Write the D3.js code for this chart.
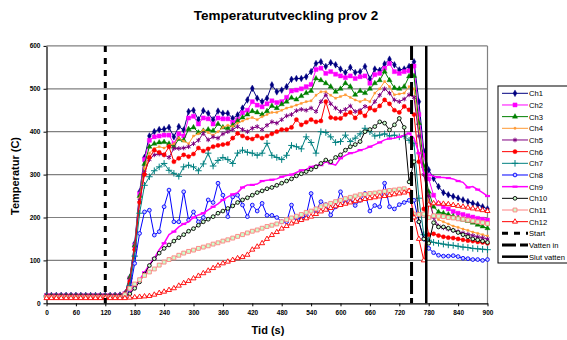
<!DOCTYPE html>
<html>
<head>
<meta charset="utf-8">
<script src="https://cdn.jsdelivr.net/npm/d3@7"></script>
<style>
  body { margin: 0; background: #fff; }
  svg { display: block; font-family: Arial, "Liberation Sans", sans-serif; }
</style>
</head>
<body>
<svg id="chart" width="567" height="340"></svg>
<script>
// time in seconds, one sample every 10 s
const times = [0,10,20,30,40,50,60,70,80,90,100,110,120,130,140,150,
  160,170,180,190,200,210,220,230,240,250,260,270,280,290,300,310,320,330,340,350,
  360,370,380,390,400,410,420,430,440,450,460,470,480,490,500,510,520,530,540,550,
  560,570,580,590,600,610,620,630,640,650,660,670,680,690,700,710,720,730,740,750,
  760,770,780,790,800,810,820,830,840,850,860,870,880,890,900];

const ch1 = [18,18,18,18,18,18,18,18,18,18,18,18,18,18,18,19,
  22,60,140,260,340,390,400,405,406,410,
  388,412,404,447,450,428,449,443,428,448,
  443,443,431,439,455,474,501,478,470,478,
  509,493,497,505,522,524,524,528,540,559,
  563,552,561,556,546,538,550,538,540,552,
  523,546,543,558,569,556,544,546,552,563,
  470,355,311,291,272,258,253,249,245,241,
  237,233,230,225,220];
const ch2 = [17,17,17,17,17,17,17,17,17,17,17,17,17,17,17,18,
  22,58,135,255,335,380,388,390,392,392,
  372,395,390,432,436,418,432,430,418,432,
  430,430,422,428,444,450,470,462,458,465,
  472,468,470,480,495,497,500,505,510,545,
  548,536,540,534,530,526,530,524,528,530,
  513,533,536,548,559,540,536,540,542,553,
  440,345,290,252,232,225,220,214,210,207,
  204,201,198,196,194];
const ch3 = [17,17,17,17,17,17,17,17,17,17,17,17,17,17,17,17,
  22,60,135,250,325,365,372,375,376,372,
  365,383,380,406,410,398,402,405,402,418,
  410,408,415,425,433,440,448,445,440,448,
  460,455,464,470,479,475,483,490,495,524,
  520,513,505,493,500,513,505,486,495,490,
  500,513,520,540,520,502,500,505,529,530,
  420,320,260,225,213,210,207,203,199,195,
  192,188,183,179,175];
const ch4 = [17,17,17,17,17,17,17,17,17,17,17,17,17,17,17,17,
  21,55,130,245,315,350,361,365,362,368,
  372,385,378,372,390,395,404,398,392,400,
  410,415,412,420,425,430,433,428,435,440,
  445,445,450,455,458,462,466,470,472,485,
  493,493,485,478,482,486,480,474,470,475,
  470,490,500,517,505,486,488,490,505,500,
  400,300,240,205,195,190,185,180,177,173,
  170,166,163,160,157];
const ch5 = [20,20,20,20,20,20,20,20,20,20,20,20,20,20,20,20,
  24,55,128,240,305,335,346,348,346,340,
  361,361,362,365,372,380,396,381,388,385,
  395,400,405,412,405,400,408,412,405,415,
  423,420,428,437,440,449,452,450,455,447,
  470,486,465,455,447,452,460,447,450,459,
  455,470,485,500,490,474,470,476,486,480,
  390,300,250,200,180,176,173,170,167,164,
  161,158,155,153,150];
const ch6 = [17,17,17,17,17,17,17,17,17,17,17,17,17,17,17,17,
  22,50,125,235,300,340,357,352,346,365,
  330,338,346,342,348,362,355,360,365,368,
  370,372,385,396,390,385,383,390,385,390,
  395,400,405,405,410,428,416,422,428,423,
  425,470,433,431,431,440,445,432,445,437,
  455,450,460,474,465,450,445,459,451,440,
  330,220,160,162,158,155,153,152,150,148,
  146,145,143,142,140];
const ch7 = [17,17,17,17,17,17,17,17,17,17,17,17,17,17,17,17,
  20,42,110,210,275,295,309,318,326,310,
  303,296,318,322,318,309,325,350,320,333,
  340,335,326,350,357,352,350,345,350,373,
  345,340,335,345,368,365,360,388,375,350,
  400,398,388,375,377,392,377,385,395,408,
  400,390,392,395,390,392,388,390,380,373,
  245,160,147,142,140,138,136,135,133,131,
  130,128,127,126,125];
const ch8 = [15,15,15,15,15,15,15,15,15,15,15,15,15,15,15,15,
  16,30,93,163,213,217,159,167,225,264,
  190,190,260,194,213,190,200,241,235,280,
  252,202,248,252,229,202,229,215,233,205,
  205,200,190,190,229,198,196,205,256,215,
  237,230,206,225,260,235,245,228,240,256,
  215,228,225,280,225,220,230,235,240,240,
  190,150,128,118,112,110,110,111,109,105,
  104,102,102,100,102];
const ch9 = [16,16,16,16,16,16,16,16,16,16,16,16,16,16,16,16,
  18,25,40,55,72,90,105,125,140,160,
  167,178,185,190,200,206,210,218,225,232,
  241,248,254,258,270,276,276,278,285,287,
  288,290,295,298,300,305,310,312,318,322,
  322,330,326,322,338,345,350,352,357,360,
  365,370,375,381,384,385,388,392,396,385,
  350,303,300,296,294,293,292,290,285,282,
  270,272,265,258,250];
const ch10 = [16,16,16,16,16,16,16,16,16,16,16,16,16,16,16,16,
  17,22,35,50,68,88,104,117,128,136,
  145,153,160,168,174,182,190,196,202,210,
  215,221,227,235,241,246,252,258,262,267,
  270,275,280,285,290,297,302,307,312,318,
  326,334,330,340,346,357,365,370,377,400,
  405,412,423,420,404,416,431,410,283,330,
  190,150,140,188,178,178,175,170,165,160,
  155,150,148,145,142];
const ch11 = [14,14,14,14,14,14,14,14,14,14,14,14,14,14,14,14,
  20,35,45,55,65,73,80,89,96,102,
  106,112,117,121,124,128,131,134,138,141,
  145,148,152,156,160,164,168,171,175,179,
  182,185,190,195,199,203,207,212,215,220,
  225,229,233,237,240,244,247,250,253,254,
  256,257,259,261,263,264,266,267,262,208,
  207,208,200,204,203,202,200,199,197,196,
  194,192,190,188,186];
const ch12 = [12,12,12,12,12,12,12,12,12,12,12,12,12,12,12,12,
  12,13,14,15,16,17,20,24,27,31,
  35,41,47,52,58,64,70,76,82,88,
  93,97,101,105,108,113,125,132,140,150,
  159,166,174,180,186,190,194,198,202,208,
  214,218,222,226,229,232,235,238,240,243,
  245,247,249,250,252,254,256,258,262,200,
  150,100,230,233,233,232,231,229,227,225,
  223,221,219,217,215];

// events (s)
const eventNames = ["Start", "Vatten in", "Slut vatten"];
const eventTimes = [120, 745, 775];

const xTicks = [0,60,120,180,240,300,360,420,480,540,600,660,720,780,840,900];
const yTicks = [0,100,200,300,400,500,600];

const series = [
  {name: "Ch1", values: ch1, color: "#000080", marker: "diamond", fill: "#000080", size: 13},
  {name: "Ch2", values: ch2, color: "#ff00ff", marker: "square", fill: "#ff00ff", size: 17},
  {name: "Ch3", values: ch3, color: "#008000", marker: "triangle", fill: "#008000", size: 12},
  {name: "Ch4", values: ch4, color: "#ff9933", marker: "square", fill: "#ff9933", size: 4},
  {name: "Ch5", values: ch5, color: "#800080", marker: "asterisk", fill: "none", size: 15},
  {name: "Ch6", values: ch6, color: "#ff0000", marker: "circle", fill: "#ff0000", size: 14},
  {name: "Ch7", values: ch7, color: "#008080", marker: "plus", fill: "none", size: 16},
  {name: "Ch8", values: ch8, color: "#0000ff", marker: "circle", fill: "#ccccff", size: 11},
  {name: "Ch9", values: ch9, color: "#ff00ff", marker: "dash", fill: "#ff00ff", size: 0},
  {name: "Ch10", values: ch10, color: "#000000", marker: "circle", fill: "#ccffcc", size: 11},
  {name: "Ch11", values: ch11, color: "#ff8080", marker: "square", fill: "#ccffcc", size: 15},
  {name: "Ch12", values: ch12, color: "#ff0000", marker: "triangle", fill: "#ffffff", size: 11}
];

const symbols = {
  diamond: d3.symbolDiamond, square: d3.symbolSquare, triangle: d3.symbolTriangle,
  circle: d3.symbolCircle, asterisk: d3.symbolAsterisk, plus: d3.symbolPlus
};

const svg = d3.select("#chart");
const x = d3.scaleLinear().domain([0, 900]).range([46.5, 487.5]);
const y = d3.scaleLinear().domain([0, 600]).range([303.3, 45.9]);

// title
svg.append("text")
  .attr("x", 286).attr("y", 20)
  .attr("text-anchor", "middle")
  .style("font-size", "13.5px").style("font-weight", "bold")
  .text("Temperaturutveckling prov 2");

// grid
svg.append("g").selectAll("line")
  .data(yTicks.filter(d => d > 0))
  .enter().append("line")
  .attr("x1", x(0)).attr("x2", x(900))
  .attr("y1", d => y(d)).attr("y2", d => y(d))
  .attr("stroke", "#808080").attr("stroke-width", 1.2);

svg.append("line")
  .attr("x1", x(900)).attr("x2", x(900))
  .attr("y1", y(600)).attr("y2", y(0))
  .attr("stroke", "#808080").attr("stroke-width", 1.2);

// axes
let xAxis = svg.append("g")
  .attr("transform", `translate(0, ${y(0)})`)
  .call(d3.axisBottom(x).tickValues(xTicks).tickSize(3).tickSizeOuter(0));
let yAxis = svg.append("g")
  .attr("transform", `translate(${x(0)}, 0)`)
  .call(d3.axisLeft(y).tickValues(yTicks).tickSize(3).tickSizeOuter(0));

[xAxis, yAxis].forEach(a => {
  a.select(".domain").attr("stroke", "#000").attr("stroke-width", 1.2);
  a.selectAll(".tick line").attr("stroke", "#000");
  a.selectAll(".tick text")
    .style("font-family", "Arial, 'Liberation Sans', sans-serif")
    .style("font-size", "6.5px").style("font-weight", "bold").attr("fill", "#000");
});
xAxis.selectAll(".tick text").attr("dy", "0.9em");
yAxis.selectAll(".tick text").attr("x", -6);

svg.append("text")
  .attr("x", 268).attr("y", 334)
  .attr("text-anchor", "middle")
  .style("font-size", "11px").style("font-weight", "bold")
  .text("Tid (s)");

svg.append("text")
  .attr("transform", "translate(19, 176) rotate(-90)")
  .attr("text-anchor", "middle")
  .style("font-size", "11px").style("font-weight", "bold")
  .text("Temperatur (C)");

// series
const line = d3.line().x((d, i) => x(times[i])).y(d => y(d));

function drawMarker(g, s, cx, cy) {
  if (s.marker == "dash") {
    g.append("rect")
      .attr("x", cx - 2.5).attr("y", cy - 1.1)
      .attr("width", 5).attr("height", 2.2)
      .attr("fill", s.color);
    return;
  }
  let stroked = s.marker == "asterisk" || s.marker == "plus";
  g.append("path")
    .attr("transform", `translate(${cx},${cy})`)
    .attr("d", d3.symbol().type(symbols[s.marker]).size(s.size)())
    .attr("fill", stroked ? "none" : s.fill)
    .attr("stroke", s.color)
    .attr("stroke-width", stroked ? 1 : (s.fill == s.color ? 0.4 : 0.9));
}

series.forEach(s => {
  let g = svg.append("g").attr("class", "series " + s.name);
  g.append("path")
    .datum(s.values)
    .attr("d", line)
    .attr("fill", "none")
    .attr("stroke", s.color)
    .attr("stroke-width", s.name == "Ch9" ? 1.5 : 1);
  s.values.forEach((v, i) => {
    if (s.name == "Ch9" && i % 2 == 1) return;
    drawMarker(g, s, x(times[i]), y(v));
  });
});

// event lines
const eventDash = ["6,6", "14,4", null];
const eventWidth = [3, 3, 2.5];
eventTimes.forEach((t, i) => {
  svg.append("line")
    .attr("x1", x(t)).attr("x2", x(t))
    .attr("y1", y(600)).attr("y2", y(0))
    .attr("stroke", "#000")
    .attr("stroke-width", eventWidth[i])
    .attr("stroke-dasharray", eventDash[i]);
});

// legend
let legend = svg.append("g").attr("transform", "translate(498, 86)");
legend.append("rect")
  .attr("x", 0).attr("y", 0)
  .attr("width", 80).attr("height", 177)
  .attr("fill", "#fff").attr("stroke", "#000").attr("stroke-width", 1);

const legendItems = series.map(s => s.name).concat(eventNames);
legendItems.forEach((name, i) => {
  let ly = 7.3 + i * 11.67;
  if (i < series.length) {
    let s = series[i];
    legend.append("line")
      .attr("x1", 4).attr("x2", 30)
      .attr("y1", ly).attr("y2", ly)
      .attr("stroke", s.color).attr("stroke-width", s.name == "Ch9" ? 1.5 : 1);
    drawMarker(legend, s, 17, ly);
  } else {
    let k = i - series.length;
    legend.append("line")
      .attr("x1", 4).attr("x2", 30)
      .attr("y1", ly).attr("y2", ly)
      .attr("stroke", "#000")
      .attr("stroke-width", eventWidth[k])
      .attr("stroke-dasharray", eventDash[k]);
  }
  legend.append("text")
    .attr("x", 31).attr("y", ly + 3)
    .style("font-size", "7.6px")
    .text(name);
});
</script>
</body>
</html>
